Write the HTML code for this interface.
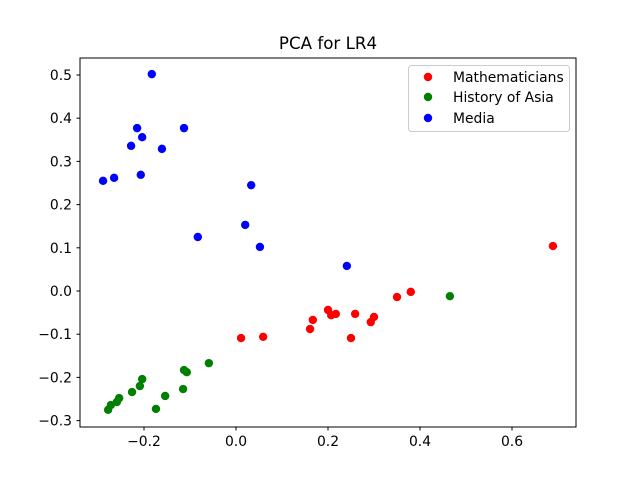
<!DOCTYPE html>
<html><head><meta charset="utf-8"><style>
body{margin:0;background:#fff;}
svg{display:block;font-family:"DejaVu Sans","Liberation Sans",sans-serif;}
</style></head><body>
<svg id="chart" width="640" height="480">
<rect width="640" height="480" fill="#fff"/>
<text x="328" y="49" text-anchor="middle" font-size="16.7">PCA for LR4</text>
<g id="axes"></g>
<g id="points"></g>
<rect x="80" y="58" width="496" height="369" fill="none" stroke="#000" stroke-width="1"/>
<g>
<rect x="408.5" y="65.5" width="161" height="66" rx="3" fill="#fff" fill-opacity="0.8" stroke="#ccc"/>
<circle cx="428" cy="77" r="4.2" fill="red"/>
<text x="453" y="82" font-size="13.9">Mathematicians</text>
<circle cx="428" cy="97" r="4.2" fill="green"/>
<text x="453" y="102" font-size="13.9">History of Asia</text>
<circle cx="428" cy="118" r="4.2" fill="blue"/>
<text x="453" y="123" font-size="13.9">Media</text>
</g>
</svg>
<script>
const xTicks=[-0.2,0.0,0.2,0.4,0.6];
const xTickLabels=["−0.2","0.0","0.2","0.4","0.6"];
const yTicks=[-0.3,-0.2,-0.1,0.0,0.1,0.2,0.3,0.4,0.5];
const yTickLabels=["−0.3","−0.2","−0.1","0.0","0.1","0.2","0.3","0.4","0.5"];
const mathX=[0.689,0.380,0.350,0.300,0.293,0.250,0.259,0.217,0.207,0.200,0.167,0.161,0.059,0.011];
const mathY=[0.104,-0.002,-0.014,-0.060,-0.072,-0.109,-0.053,-0.053,-0.056,-0.044,-0.067,-0.088,-0.106,-0.109];
const asiaX=[0.465,-0.059,-0.113,-0.107,-0.115,-0.154,-0.174,-0.209,-0.204,-0.226,-0.254,-0.259,-0.272,-0.278];
const asiaY=[-0.012,-0.167,-0.183,-0.188,-0.227,-0.243,-0.273,-0.220,-0.204,-0.234,-0.248,-0.257,-0.264,-0.275];
const mediaX=[-0.183,-0.113,-0.215,-0.204,-0.228,-0.161,-0.265,-0.289,-0.207,0.033,-0.083,0.020,0.052,0.241];
const mediaY=[0.502,0.377,0.377,0.356,0.336,0.329,0.262,0.255,0.269,0.245,0.125,0.153,0.102,0.058];
const ns="http://www.w3.org/2000/svg";
function sx(v){return 236+v*460;}
function sy(v){return 291-v*432;}
const axes=document.getElementById('axes');
xTicks.forEach((t,i)=>{
  const l=document.createElementNS(ns,'line');
  l.setAttribute('x1',sx(t));l.setAttribute('x2',sx(t));l.setAttribute('y1',427);l.setAttribute('y2',430.5);l.setAttribute('stroke','#000');
  
  
  axes.appendChild(l);
  const tx=document.createElementNS(ns,'text');
  tx.setAttribute('x',sx(t));tx.setAttribute('y',446);tx.setAttribute('text-anchor','middle');tx.setAttribute('font-size','13.9');
  tx.textContent=xTickLabels[i];
  
  
  axes.appendChild(tx);
});
yTicks.forEach((t,i)=>{
  const l=document.createElementNS(ns,'line');
  l.setAttribute('x1',76.5);l.setAttribute('x2',80);l.setAttribute('y1',sy(t));l.setAttribute('y2',sy(t));l.setAttribute('stroke','#000');
  
  
  axes.appendChild(l);
  const tx=document.createElementNS(ns,'text');
  tx.setAttribute('x',72);tx.setAttribute('y',sy(t)+5);tx.setAttribute('text-anchor','end');tx.setAttribute('font-size','13.9');
  tx.textContent=yTickLabels[i];
  
  
  axes.appendChild(tx);
});
const pts=document.getElementById('points');
function draw(xs,ys,color,name){
  xs.forEach((x,i)=>{
    const c=document.createElementNS(ns,'circle');
    c.setAttribute('cx',sx(x));c.setAttribute('cy',sy(ys[i]));c.setAttribute('r',4.2);c.setAttribute('fill',color);
    
    
    pts.appendChild(c);
  });
}
draw(mathX,mathY,'red','point-mathematicians');
draw(asiaX,asiaY,'green','point-history-of-asia');
draw(mediaX,mediaY,'blue','point-media');
</script>
</body></html>
